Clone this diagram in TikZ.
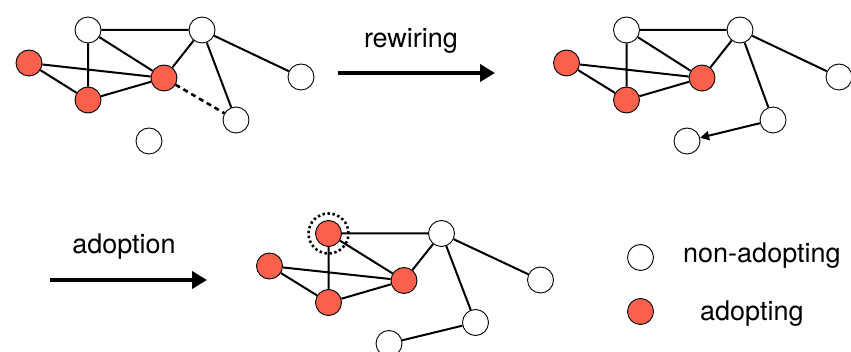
\documentclass[tikz,border=0pt]{standalone}
\usepackage{fontspec}
\setmainfont{TeX Gyre Heros}
\usetikzlibrary{arrows.meta}
\definecolor{adopt}{RGB}{251,96,76}
\tikzset{
  vtx/.style={circle,draw=black,line width=0.9pt,minimum size=26pt,inner sep=0pt,fill=white},
  red/.style={vtx,fill=adopt},
  edge/.style={line width=2pt},
  bigarrow/.style={line width=4pt,-{Triangle[length=15pt,width=17pt]}},
  lbl/.style={font=\fontsize{27}{32}\selectfont,inner sep=0pt}
}
\begin{document}
\begin{tikzpicture}[x=1pt,y=-1pt]
\useasboundingbox (0,0) rectangle (851,352);
% graph 1
\node[vtx] (a1) at (88,30) {};
\node[vtx] (b1) at (202,30) {};
\node[red] (c1) at (29,63) {};
\node[red] (d1) at (88,100) {};
\node[red] (e1) at (164,78) {};
\node[vtx] (f1) at (301,77) {};
\node[vtx] (g1) at (236,120) {};
\node[vtx] (h1) at (149,141) {};
\draw[edge] (a1)--(b1) (a1)--(d1) (a1)--(e1) (c1)--(e1) (c1)--(d1) (d1)--(e1) (e1)--(b1) (b1)--(f1) (b1)--(g1);
\draw[edge,dash pattern=on 5pt off 4pt,line width=2.6pt] (e1)--(g1);
% graph 2
\node[vtx] (a2) at (626.5,30) {};
\node[vtx] (b2) at (740,30) {};
\node[red] (c2) at (566.5,63) {};
\node[red] (d2) at (626.5,100) {};
\node[red] (e2) at (702,78) {};
\node[vtx] (f2) at (839,77) {};
\node[vtx] (g2) at (773,120) {};
\node[vtx] (h2) at (687,141) {};
\draw[edge] (a2)--(b2) (a2)--(d2) (a2)--(e2) (c2)--(e2) (c2)--(d2) (d2)--(e2) (e2)--(b2) (b2)--(f2) (b2)--(g2);
\draw[edge,-{Triangle[length=9pt,width=9pt]}] (g2)--(h2);
% graph 3
\node[red] (a3) at (328.5,233.5) {};
\node[circle,draw=black,line width=2.6pt,dash pattern=on 2.4pt off 2.6pt,minimum size=40pt,inner sep=0pt] (ring) at (a3) {};
\node[vtx] (b3) at (441.5,233.5) {};
\node[red] (c3) at (269.5,266) {};
\node[red] (d3) at (328.5,302.5) {};
\node[red] (e3) at (404,280.5) {};
\node[vtx] (f3) at (540.5,280) {};
\node[vtx] (g3) at (475.5,322.5) {};
\node[vtx] (h3) at (389,343.5) {};
\draw[edge] (a3)--(b3) (a3)--(d3) (a3)--(e3) (c3)--(e3) (c3)--(d3) (d3)--(e3) (e3)--(b3) (b3)--(f3) (b3)--(g3) (g3)--(h3);
% arrows
\coordinate (r0) at (338,73); \coordinate (r1) at (495,73);
\draw[bigarrow] (r0)--(r1);
\node[lbl,anchor=base] (rw) at (411,48) {rewiring};
\coordinate (p0) at (50,280); \coordinate (p1) at (207,280);
\draw[bigarrow] (p0)--(p1);
\node[lbl,anchor=base] (ad) at (124,254) {adoption};
% legend
\node[vtx] (l1) at (640.5,257.5) {};
\node[red] (l2) at (640.5,311.5) {};
\node[lbl,anchor=base west] (t1) at (683,263) {non-adopting};
\node[lbl,anchor=base west] (t2) at (700,321) {adopting};
\end{tikzpicture}
\end{document}
